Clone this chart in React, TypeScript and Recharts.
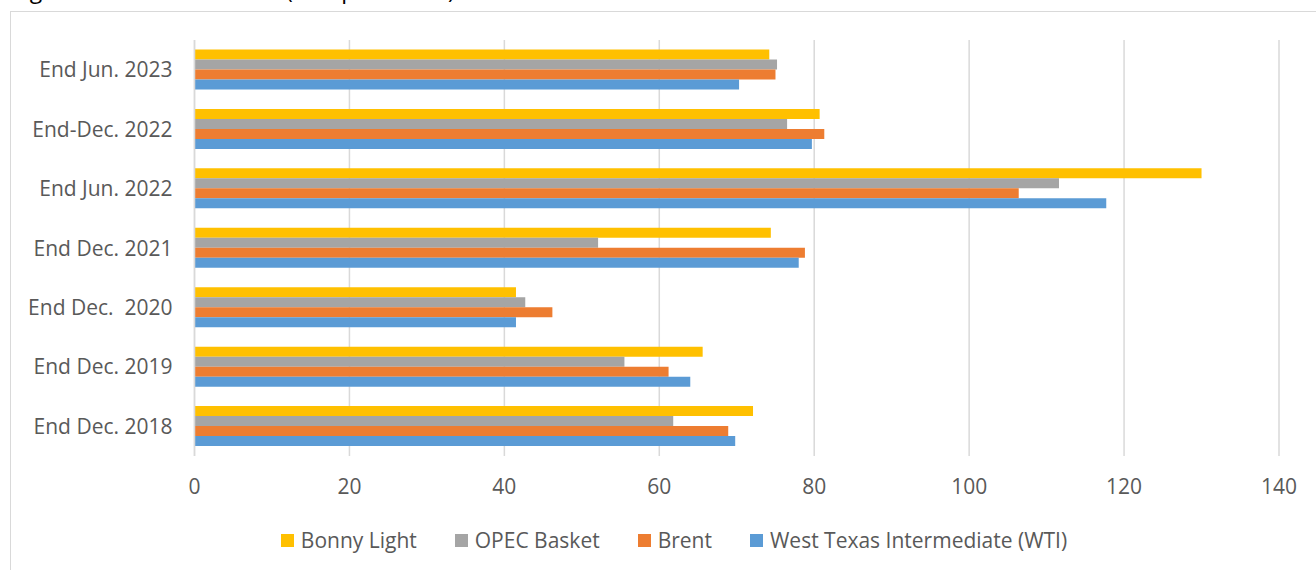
import { Bar, BarChart, CartesianGrid, Legend, XAxis, YAxis } from "recharts";

// crude oil prices, US$ per barrel, oldest first
const periods = [
	"End Dec. 2018",
	"End Dec. 2019",
	"End Dec.  2020",
	"End Dec. 2021",
	"End Jun. 2022",
	"End-Dec. 2022",
	"End Jun. 2023",
];
const bonnyLight = [72.1, 65.6, 41.5, 74.4, 130.0, 80.7, 74.2];
const opecBasket = [61.8, 55.5, 42.7, 52.1, 111.6, 76.5, 75.2];
const brent = [68.9, 61.2, 46.2, 78.8, 106.4, 81.3, 75.0];
const wti = [69.8, 64.0, 41.5, 78.0, 117.7, 79.7, 70.3];
const xTicks = [0, 20, 40, 60, 80, 100, 120, 140];

const series = [
	{ key: "bonny", name: "Bonny Light", color: "#FFC000" },
	{ key: "opec", name: "OPEC Basket", color: "#A5A5A5" },
	{ key: "brent", name: "Brent", color: "#ED7D31" },
	{ key: "wti", name: "West Texas Intermediate (WTI)", color: "#5B9BD5" },
];

const data = periods.map((period, i) => ({
	period,
	bonny: bonnyLight[i],
	opec: opecBasket[i],
	brent: brent[i],
	wti: wti[i],
}));

const FONT = "'Open Sans', sans-serif";
const TEXT = "#595959";
const GRID = "#d9d9d9";
const SIZE = 21;

function YTick(props: any) {
	const { x, y, payload } = props;
	return (
		<text
			x={x}
			y={y}
			dy="0.36em"
			textAnchor="end"
			fill={TEXT}
			fontSize={SIZE}
			fontFamily={FONT}
			style={{ whiteSpace: "pre" }}
		>
			{payload.value}
		</text>
	);
}

function LegendContent() {
	return (
		<div
			style={{
				display: "flex",
				justifyContent: "center",
				alignItems: "center",
				fontFamily: FONT,
				fontSize: SIZE,
				color: TEXT,
			}}
		>
			{series.map((s, i) => (
				<div
					key={s.key}
					style={{
						display: "flex",
						alignItems: "center",
						marginRight: i < series.length - 1 ? 38 : 0,
					}}
				>
					<span
						style={{
							width: 13,
							height: 13,
							background: s.color,
							marginRight: 7,
							display: "inline-block",
						}}
					/>
					<span>{s.name}</span>
				</div>
			))}
		</div>
	);
}

export default function App() {
	return (
		<div
			style={{
				position: "absolute",
				left: 0,
				top: 0,
				width: 1316,
				height: 570,
				overflow: "hidden",
				background: "#fff",
			}}
		>
			{/* title sits above the crop, only its descenders show */}
			<div
				style={{
					position: "absolute",
					left: 12,
					top: -27,
					fontFamily: FONT,
					fontSize: 23,
					color: "#000",
					whiteSpace: "pre",
				}}
			>
				Figure 4: Crude Oil Prices (US$ per barrel)
			</div>
			<div
				style={{
					position: "absolute",
					left: 10,
					top: 11,
					width: 1340,
					height: 600,
					border: `1.5px solid ${GRID}`,
				}}
			/>
			<div style={{ position: "absolute", left: 0, top: 0 }}>
				<BarChart
					width={1316}
					height={570}
					data={data}
					layout="vertical"
					margin={{ top: 40, right: 37, bottom: 84, left: 0 }}
					barCategoryGap="16%"
					barGap={0}
				>
					<CartesianGrid
						horizontal={false}
						stroke={GRID}
						strokeWidth={1.5}
					/>
					<XAxis
						type="number"
						domain={[0, 140]}
						ticks={xTicks}
						axisLine={false}
						tickLine={false}
						tickSize={0}
						tickMargin={23}
						height={30}
						tick={{ fill: TEXT, fontSize: SIZE, fontFamily: FONT }}
					/>
					<YAxis
						type="category"
						dataKey="period"
						reversed
						width={194.5}
						axisLine={{ stroke: GRID, strokeWidth: 1.5 }}
						tickLine={false}
						tickSize={0}
						tickMargin={22}
						tick={<YTick />}
						interval={0}
					/>
					<Legend
						verticalAlign="middle"
						align="center"
						layout="horizontal"
						content={<LegendContent />}
						wrapperStyle={{ top: 526, left: 0, width: 1348 }}
					/>
					{series.map((s) => (
						<Bar
							key={s.key}
							dataKey={s.key}
							name={s.name}
							fill={s.color}
							isAnimationActive={false}
						/>
					))}
				</BarChart>
			</div>
		</div>
	);
}
